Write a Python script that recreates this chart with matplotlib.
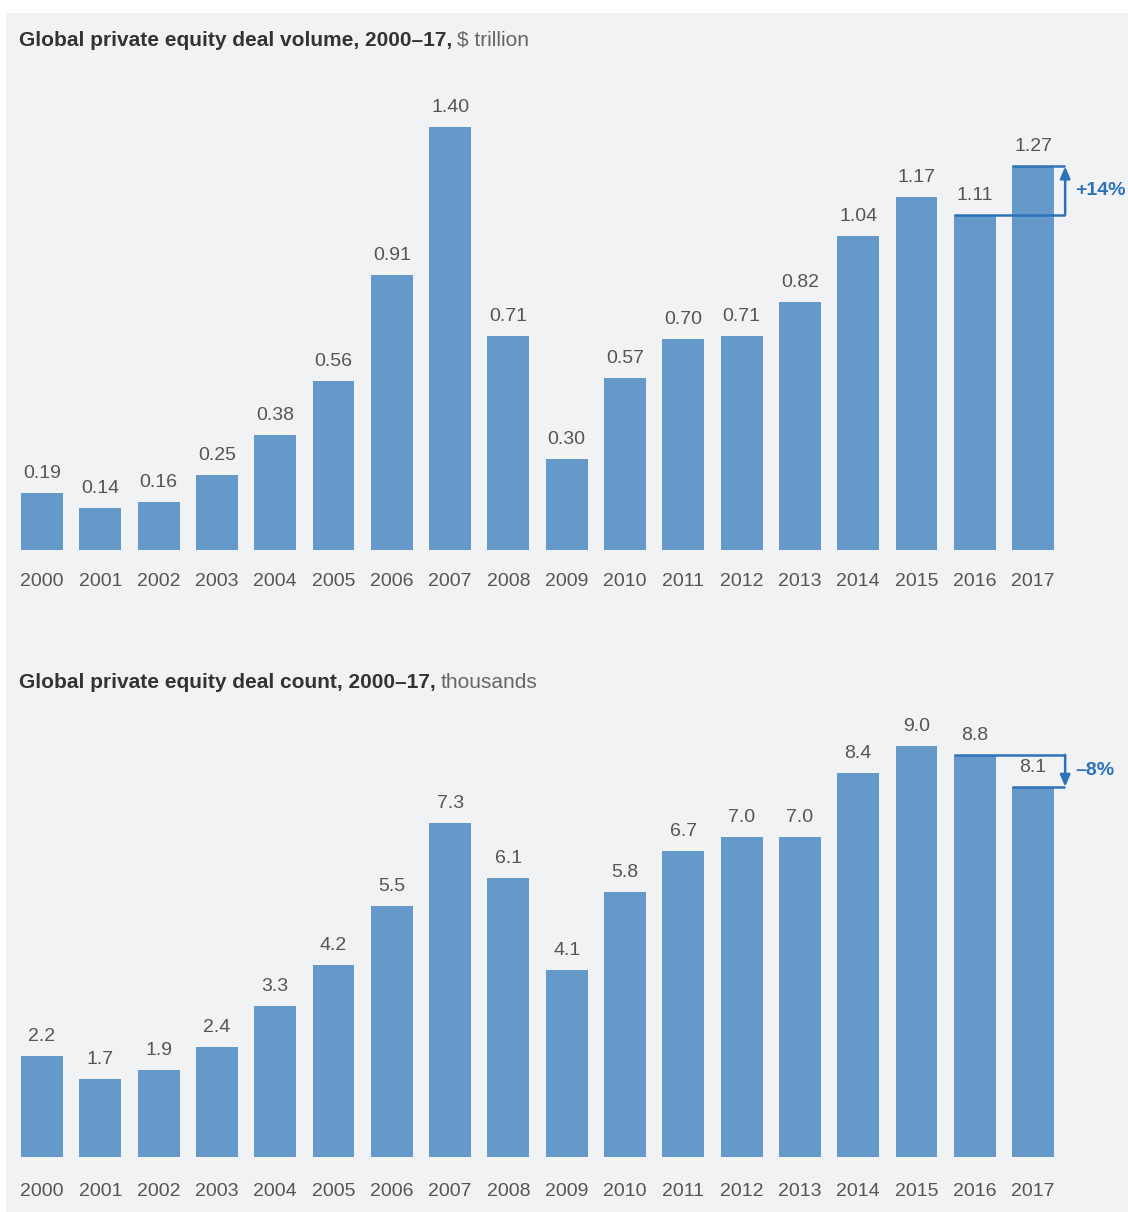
import matplotlib
matplotlib.use("Agg")
import matplotlib.pyplot as plt
from matplotlib.patches import Rectangle

years = ["2000", "2001", "2002", "2003", "2004", "2005", "2006", "2007", "2008",
         "2009", "2010", "2011", "2012", "2013", "2014", "2015", "2016", "2017"]
volume = [0.19, 0.14, 0.16, 0.25, 0.38, 0.56, 0.91, 1.40, 0.71,
          0.30, 0.57, 0.70, 0.71, 0.82, 1.04, 1.17, 1.11, 1.27]
count = [2.2, 1.7, 1.9, 2.4, 3.3, 4.2, 5.5, 7.3, 6.1,
         4.1, 5.8, 6.7, 7.0, 7.0, 8.4, 9.0, 8.8, 8.1]
volume_labels = ["0.19", "0.14", "0.16", "0.25", "0.38", "0.56", "0.91", "1.40", "0.71",
                 "0.30", "0.57", "0.70", "0.71", "0.82", "1.04", "1.17", "1.11", "1.27"]
count_labels = ["2.2", "1.7", "1.9", "2.4", "3.3", "4.2", "5.5", "7.3", "6.1",
                "4.1", "5.8", "6.7", "7.0", "7.0", "8.4", "9.0", "8.8", "8.1"]
volume_change = "+14%"
count_change = "\u20138%"

W, H = 1128, 1212
BAR = "#6499c9"
ACC = "#2e72b8"
TXT = "#555555"
BG = "#f1f2f4"
FONT = ["Liberation Sans", "DejaVu Sans"]
FS = 14
TFS = 15

fig = plt.figure(figsize=(W / 100, H / 100), dpi=100, facecolor="white")
fig.patches.append(Rectangle((6 / W, 0), 1 - 6 / W, 1 - 13 / H,
                             transform=fig.transFigure, facecolor=BG,
                             edgecolor="none", zorder=-10))

px_per_slot = 58.3
x0_px = 42.0
xlim = (-x0_px / px_per_slot, (W - x0_px) / px_per_slot)
width = 0.72


def make_axes(base_px, top_px, ymax):
    ax = fig.add_axes([0, 1 - base_px / H, 1, (base_px - top_px) / H])
    ax.set_xlim(*xlim)
    ax.set_ylim(0, ymax)
    ax.axis("off")
    ax.patch.set_alpha(0)
    return ax


def draw(ax, vals, labels, label_y_px):
    xs = list(range(len(vals)))
    ax.bar(xs, vals, width=width, color=BAR, zorder=2)
    for x, v, lab in zip(xs, vals, labels):
        ax.annotate(lab, (x, v), xytext=(0, 11), textcoords="offset pixels",
                    ha="center", va="bottom", fontsize=FS, color=TXT,
                    family=FONT)
    for x, y in zip(xs, years):
        fig.text((x0_px + x * px_per_slot) / W, 1 - label_y_px / H, y,
                 ha="center", va="center", fontsize=FS, color=TXT, family=FONT)


def title(y_px, bold, light):
    t = fig.text(19 / W, 1 - y_px / H, bold, ha="left", va="center",
                 fontsize=TFS, fontweight="bold", color="#333333", family=FONT)
    plt.annotate(light, xy=(1, 0.5), xycoords=t, xytext=(5, 0),
                 textcoords="offset pixels", ha="left", va="center",
                 fontsize=TFS, color="#666666", family=FONT)


def bracket(ax, vals, text):
    a, b = vals[-2], vals[-1]
    xr = 17.55
    xl_a = 16 - width / 2
    xl_b = 17 - width / 2
    ax.plot([xl_a, xr], [a, a], color=ACC, lw=1.8, zorder=3, solid_capstyle="butt")
    ax.plot([xl_b, xr], [b, b], color=ACC, lw=1.8, zorder=3, solid_capstyle="butt")
    ax.annotate("", xy=(xr, b), xytext=(xr, a),
                arrowprops=dict(arrowstyle="-|>,head_width=0.3,head_length=0.7",
                                color=ACC, lw=1.8, shrinkA=0, shrinkB=0), zorder=3)
    ax.text(17.72, (a + b) / 2, text, ha="left", va="center", fontsize=FS,
            fontweight="bold", color=ACC, family=FONT)


# Top panel
ax1 = make_axes(550, 60, (550 - 60) / 302.0)
draw(ax1, volume, volume_labels, 582)
bracket(ax1, volume, volume_change)
title(40, "Global private equity deal volume, 2000\u201317,", "$ trillion")

# Bottom panel
ax2 = make_axes(1157, 700, (1157 - 700) / 45.7)
draw(ax2, count, count_labels, 1191)
bracket(ax2, count, count_change)
title(682, "Global private equity deal count, 2000\u201317,", "thousands")

fig.savefig("out.png", dpi=100, facecolor="white")
